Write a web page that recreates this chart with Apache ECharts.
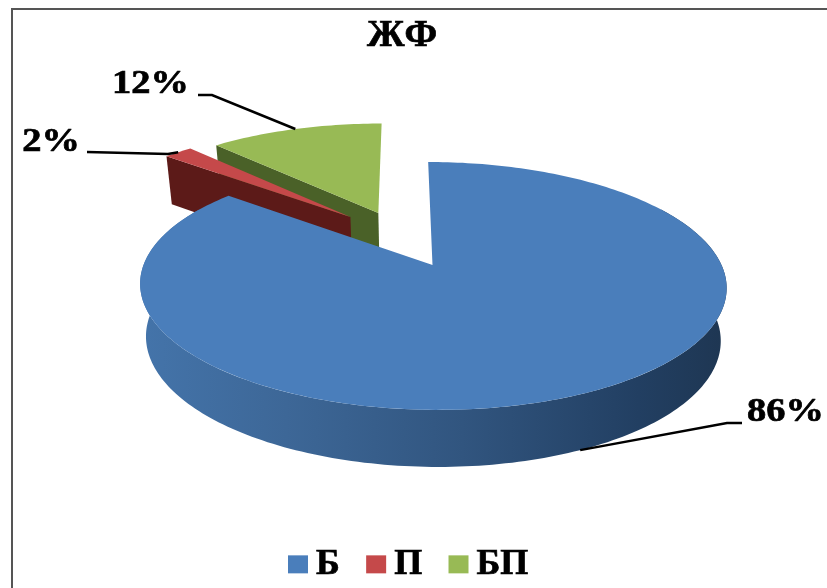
<!DOCTYPE html>
<html><head><meta charset="utf-8">
<style>html,body{margin:0;padding:0;background:#fff}#c{width:827px;height:588px}</style>
<script src="https://cdn.jsdelivr.net/npm/echarts@6/dist/echarts.min.js"></script>
</head><body><div id="c"></div>
<script>
const chartTitle = 'ЖФ';
const categories = ['Б', 'П', 'БП'];
const values = [86, 2, 12];

const colors = ['#4a7ebb', '#c5494a', '#98ba55'];
const wallColors = ['#2f5583', '#5c1a18', '#4a6128'];
const paint = [3, 2, 1];
// disc offsets (explosion) in disc units
const offsetX = [0, -0.297, -0.194];
const offsetY = [0, -0.428, -0.466];
// leader lines: label elbow and label text placement, per slice
const elbowA = [[727, 423], [168, 154], [212, 95]];
const elbowB = [[742, 423], [87, 152], [198, 95]];
const labelAt = [[785.5, 412], [51, 142], [150.5, 84]];

// perspective disc model
const CX = 432.5, CY = 265, A = 289, B = 120.4, K = 0.169, DEPTH = 52, VANISH = 30;
const project = (X, Y) => {
  const w = 1 - K * Y;
  return [CX + (A * X + VANISH) / w - VANISH, CY + B * Y / w, w];
};
const bottomOf = (p) => [CX + (p[0] - CX) * 0.98, p[1] + DEPTH / Math.sqrt(p[2])];

const total = values.reduce((a, b) => a + b, 0);
const rad = (v) => v / total * 2 * Math.PI;

const arcPoints = (ox, oy, a0, a1) => {
  const n = Math.max(4, Math.ceil((a1 - a0) / 0.02));
  const out = [];
  for (let i = 0; i <= n; i++) {
    const t = a0 + (a1 - a0) * i / n;
    out.push(project(ox + Math.sin(t), oy - Math.cos(t)));
  }
  return out;
};
const xy = (p) => [p[0], p[1]];

function makeRender(i) {
  return function (params, api) {
    const v = api.value(0);
    const before = values.slice(0, i).reduce((a, b) => a + b, 0);
    const a0 = rad(before), a1 = a0 + rad(v);
    const ox = offsetX[i], oy = offsetY[i];
    const arc = arcPoints(ox, oy, a0, a1);
    const apex = project(ox, oy);
    const children = [];
    if (i === 0) {
      // outer wall of the front-facing slice, only where it shows below the top face
      const wallFill = new echarts.graphic.LinearGradient(0, 0, 1, 0, [
        { offset: 0, color: '#4474aa' },
        { offset: 0.25, color: '#3d6797' },
        { offset: 0.55, color: '#31557f' },
        { offset: 0.85, color: '#223f62' },
        { offset: 1, color: '#1e3652' }
      ], false);
      const front = arcPoints(ox, oy, Math.max(a0, Math.PI / 3), Math.min(a1, 5 * Math.PI / 3));
      children.push({ type: 'polygon', shape: { points: front.map(xy).concat(front.map(bottomOf).reverse()) }, style: { fill: wallFill } });
    } else {
      // radial wall on the side that faces the viewer (exploded slices)
      const first = arc[0];
      children.push({ type: 'polygon', shape: { points: [xy(first), xy(apex), bottomOf(apex), bottomOf(first)] }, style: { fill: wallColors[i] } });
    }
    children.push({ type: 'polygon', shape: { points: [xy(apex)].concat(arc.map(xy)) }, style: { fill: colors[i] } });
    // leader line from the slice's middle, and its percentage label
    const mid = (a0 + a1) / 2;
    let start = project(ox + Math.sin(mid), oy - Math.cos(mid));
    start = i === 0 ? bottomOf(start) : xy(start);
    children.push({ type: 'polyline', z2: 10, shape: { points: [start, elbowA[i], elbowB[i]] }, style: { stroke: '#000', lineWidth: 2.5, fill: 'none' } });
    children.push({ type: 'text', z2: 10, x: labelAt[i][0], y: labelAt[i][1], scaleX: 1.13, style: {
      text: Math.round(v / total * 100) + '%', fill: '#000', stroke: '#000', lineWidth: 0.7, align: 'center', verticalAlign: 'middle',
      font: 'bold 34px "Liberation Serif"' } });
    return { type: 'group', children };
  };
}

const chart = echarts.init(document.getElementById('c'), null, { renderer: 'canvas' });
chart.setOption({
  animation: false,
  backgroundColor: '#fff',
  title: { text: chartTitle, left: 397, top: 12, textAlign: 'center',
    textStyle: { fontFamily: 'Liberation Serif', fontWeight: 'bold', fontSize: 38, color: '#000', textBorderColor: '#000', textBorderWidth: 0.7 } },
  legend: { data: categories, left: 283, top: 541, icon: 'rect', itemWidth: 20, itemHeight: 18, itemGap: 26,
    textStyle: { fontFamily: 'Liberation Serif', fontWeight: 'bold', fontSize: 36, color: '#000', padding: [0, 0, 0, 3], textBorderColor: '#000', textBorderWidth: 0.7 } },
  graphic: [
    { type: 'polyline', shape: { points: [[12, 588], [12, 9], [827, 9]] }, style: { stroke: '#555', lineWidth: 2, fill: 'none' } }
  ],
  series: categories.map((name, i) => ({
    type: 'custom', name, coordinateSystem: 'none', z: paint[i],
    itemStyle: { color: colors[i] },
    renderItem: makeRender(i),
    data: [[values[i]]]
  }))
});
</script></body></html>
